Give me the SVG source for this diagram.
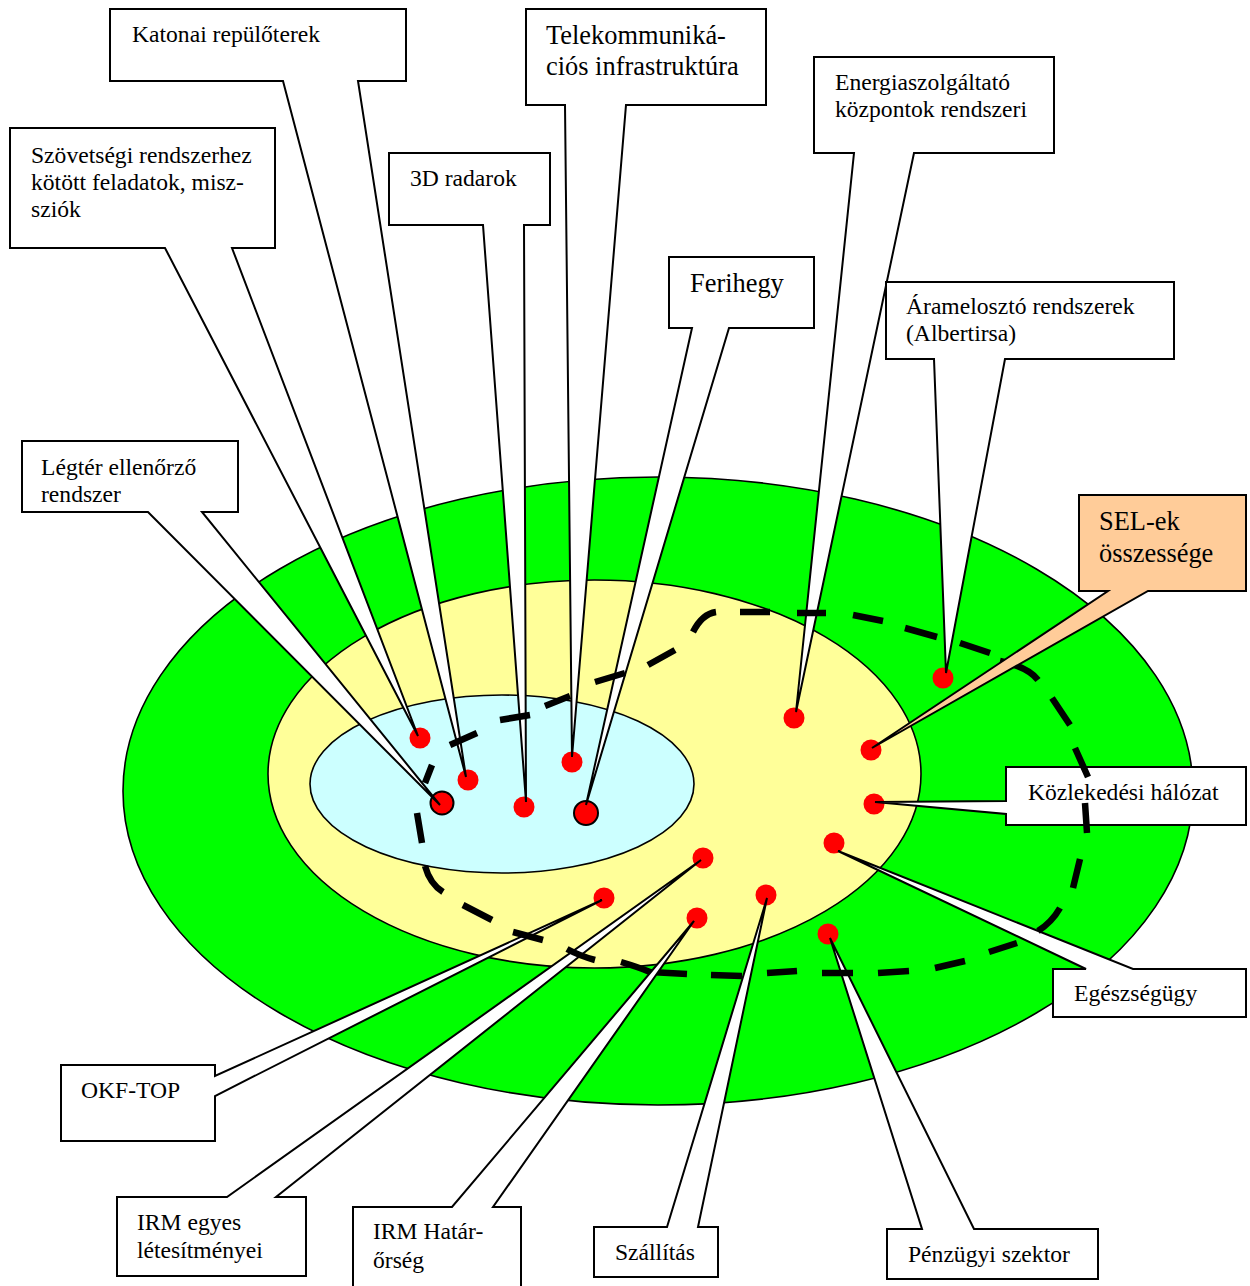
<svg xmlns="http://www.w3.org/2000/svg" width="1250" height="1286" viewBox="0 0 1250 1286">
  <style>
    .zone { stroke: #000; stroke-width: 1.6; }
    .dot { fill: #ff0000; }
    .dot-ring { fill: #ff0000; stroke: #000; stroke-width: 2; }
    .callout { fill: #fff; stroke: #000; stroke-width: 2; stroke-linejoin: miter; }
    .callout-sel { fill: #ffcc99; stroke: #000; stroke-width: 2; stroke-linejoin: miter; }
    .lbl { font-family: "Liberation Serif", "Times New Roman", serif; font-size: 23.6px; fill: #000; }
    .lbl-big { font-family: "Liberation Serif", "Times New Roman", serif; font-size: 26.4px; fill: #000; }
    .boundary { fill: none; stroke: #000; stroke-width: 6.5; stroke-linecap: butt; stroke-linejoin: round; }
  </style>

  <rect width="1250" height="1286" fill="#fff"/>

  <!-- nested zones -->
  <g id="zones">
    <ellipse id="zone-outer" class="zone" cx="658" cy="791" rx="535" ry="314" fill="#00ff00"/>
    <ellipse id="zone-middle" class="zone" cx="594.5" cy="774" rx="326.5" ry="194" fill="#ffff99"/>
    <ellipse id="zone-inner" class="zone" cx="502" cy="784" rx="192" ry="89" fill="#ccffff"/>
  </g>

  <!-- facility points -->
  <g id="points">
    <circle class="dot" cx="420" cy="738" r="10.5"/>
    <circle class="dot" cx="468" cy="780" r="10.5"/>
    <circle class="dot-ring" cx="442" cy="803" r="11.5"/>
    <circle class="dot" cx="524" cy="807" r="10.5"/>
    <circle class="dot" cx="572" cy="762" r="10.5"/>
    <circle class="dot-ring" cx="586" cy="813" r="12"/>
    <circle class="dot" cx="794" cy="718" r="10.5"/>
    <circle class="dot" cx="871" cy="750" r="10.5"/>
    <circle class="dot" cx="943" cy="678" r="10.5"/>
    <circle class="dot" cx="874" cy="804" r="10.5"/>
    <circle class="dot" cx="834" cy="843" r="10.5"/>
    <circle class="dot" cx="703" cy="858" r="10.5"/>
    <circle class="dot" cx="604" cy="898" r="10.5"/>
    <circle class="dot" cx="697" cy="918" r="10.5"/>
    <circle class="dot" cx="766" cy="895" r="10.5"/>
    <circle class="dot" cx="828" cy="934" r="10.5"/>
  </g>

  <!-- callouts: box outline with its pointer wedge -->
  <g id="callout-katonai">
    <path class="callout" d="M110,9 H406 V81 H358 L466,777 L283,81 H110 Z"/>
    <text class="lbl" x="132" y="42">Katonai repülőterek</text>
  </g>

  <g id="callout-szovetsegi">
    <path class="callout" d="M10,128 H275 V248 H232 L418,736 L165,248 H10 Z"/>
    <text class="lbl" x="31" y="163">Szövetségi rendszerhez</text>
    <text class="lbl" x="31" y="190">kötött feladatok, misz-</text>
    <text class="lbl" x="31" y="217">sziók</text>
  </g>

  <g id="callout-legter">
    <path class="callout" d="M22,441 H238 V512 H202 L440,805 L148,512 H22 Z"/>
    <text class="lbl" x="41" y="475">Légtér ellenőrző</text>
    <text class="lbl" x="41" y="502">rendszer</text>
  </g>

  <g id="callout-radar">
    <path class="callout" d="M389,153 H550 V225 H524 L526,802 L483,225 H389 Z"/>
    <text class="lbl" x="410" y="186">3D radarok</text>
  </g>

  <g id="callout-telekom">
    <path class="callout" d="M526,9 H766 V105 H626 L572,757 L565,105 H526 Z"/>
    <text class="lbl-big" x="546" y="44">Telekommuniká-</text>
    <text class="lbl-big" x="546" y="75">ciós infrastruktúra</text>
  </g>

  <g id="callout-ferihegy">
    <path class="callout" d="M669,257 H814 V328 H729 L586,805 L692,328 H669 Z"/>
    <text class="lbl-big" x="690" y="292">Ferihegy</text>
  </g>

  <g id="callout-energia">
    <path class="callout" d="M814,57 H1054 V153 H914 L796,712 L854,153 H814 Z"/>
    <text class="lbl" x="835" y="90">Energiaszolgáltató</text>
    <text class="lbl" x="835" y="117">központok rendszeri</text>
  </g>

  <g id="callout-aramelosztas">
    <path class="callout" d="M886,282 H1174 V359 H1005 L946,673 L934,359 H886 Z"/>
    <text class="lbl" x="906" y="314">Áramelosztó rendszerek</text>
    <text class="lbl" x="906" y="341">(Albertirsa)</text>
  </g>

  <g id="callout-kozlekedes">
    <path class="callout" d="M1006,767 H1246 V825 H1006 V814 L875,802 L1006,801 Z"/>
    <text class="lbl" x="1028" y="800">Közlekedési hálózat</text>
  </g>

  <g id="callout-egeszseg">
    <path class="callout" d="M1053,969 H1086 L838,851 L1133,969 H1246 V1017 H1053 Z"/>
    <text class="lbl" x="1074" y="1001">Egészségügy</text>
  </g>

  <g id="callout-okf">
    <path class="callout" d="M61,1065 H215 V1076 L602,900 L215,1096 V1141 H61 Z"/>
    <text class="lbl" x="81" y="1098">OKF-TOP</text>
  </g>

  <g id="callout-irm-letesitmeny">
    <path class="callout" d="M117,1197 H227 L701,860 L276,1197 H306 V1276 H117 Z"/>
    <text class="lbl" x="137" y="1230">IRM egyes</text>
    <text class="lbl" x="137" y="1258">létesítményei</text>
  </g>

  <g id="callout-szallitas">
    <path class="callout" d="M594,1227 H667 L767,898 L698,1227 H718 V1277 H594 Z"/>
    <text class="lbl" x="615" y="1260">Szállítás</text>
  </g>

  <g id="callout-penzugy">
    <path class="callout" d="M887,1229 H922 L830,938 L974,1229 H1098 V1279 H887 Z"/>
    <text class="lbl" x="908" y="1262">Pénzügyi szektor</text>
  </g>

  <!-- dashed outline enclosing the SEL set, one subpath per dash -->
  <g id="connectors">
    <path class="boundary" d="
      M417,813 L422,843
      M425,866 Q430,884 443,892
      M463,905 L492,920
      M513,932 L543,940
      M567,949 Q580,956 595,960
      M621,962 Q638,967 650,972 L687,974
      M711,975 L742,976
      M767,973 L797,971
      M822,973 L853,973
      M878,973 L909,971
      M935,968 L965,961
      M989,952 L1017,943
      M1038,931 Q1052,922 1060,908
      M1073,888 L1080,859
      M1087,833 L1085,803
      M1088,777 L1075,748
      M1070,725 L1052,698
      M1000,661 Q1028,667 1038,680
      M990,653 L960,643
      M937,637 L905,628
      M883,621 L853,615
      M826,613 L797,613
      M770,612 L740,612
      M716,612 Q702,614 693,632
      M675,650 L648,665
      M625,673 L595,682
      M570,696 L545,706
      M530,715 L500,720
      M477,733 L450,745
      M432,765 L425,783"/>
  </g>

  <!-- these two callouts sit above the dashed outline -->
  <g id="callout-irm-hatarorseg">
    <path class="callout" d="M353,1300 V1207 H452 L694,921 L493,1207 H521 V1300"/>
    <text class="lbl" x="373" y="1239">IRM Határ-</text>
    <text class="lbl" x="373" y="1268">őrség</text>
  </g>

  <g id="callout-sel">
    <path class="callout-sel" d="M1079,495 H1246 V591 H1148 L872,748 L1108,591 H1079 Z"/>
    <text class="lbl-big" x="1099" y="530">SEL-ek</text>
    <text class="lbl-big" x="1099" y="562">összessége</text>
  </g>
</svg>
